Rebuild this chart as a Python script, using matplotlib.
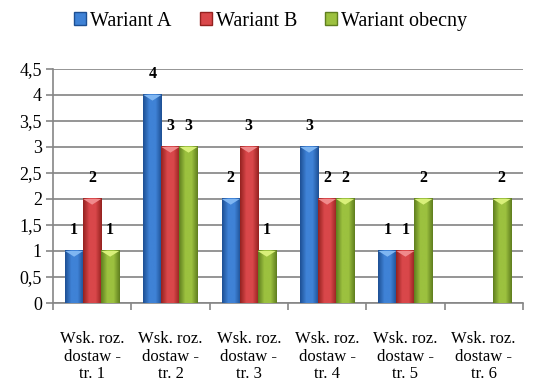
import numpy as np
import matplotlib
matplotlib.use('Agg')
import matplotlib.pyplot as plt
from matplotlib.patches import Patch, Polygon
from matplotlib.colors import LinearSegmentedColormap

plt.rcParams['font.family'] = ['Liberation Serif', 'DejaVu Serif']

# dane z wykresu
kategorie = ['Wsk. roz.\ndostaw -\ntr. 1', 'Wsk. roz.\ndostaw -\ntr. 2', 'Wsk. roz.\ndostaw -\ntr. 3',
             'Wsk. roz.\ndostaw -\ntr. 4', 'Wsk. roz.\ndostaw -\ntr. 5', 'Wsk. roz.\ndostaw -\ntr. 6']
wariant_a = [1, 4, 2, 3, 1, np.nan]
wariant_b = [2, 3, 3, 2, 1, np.nan]
wariant_obecny = [1, 3, 1, 2, 2, 2]
serie = ['Wariant A', 'Wariant B', 'Wariant obecny']
y_ticks = [0, 0.5, 1, 1.5, 2, 2.5, 3, 3.5, 4, 4.5]

# kolory: (ciemny brzeg, jasny srodek, gorny trojkat)
kolory = [('#1d4f93', '#3f82d6', '#7fb6f2'),
          ('#94211f', '#d9474a', '#f08a8c'),
          ('#5f7e1f', '#9cc13f', '#d9f07a')]

fig = plt.figure(figsize=(5.33, 3.87), dpi=100)
ax = fig.add_axes([0.0994, 0.217, 0.8816, 0.605])

szer = 0.23
x = np.arange(len(kategorie))
dane = [wariant_a, wariant_b, wariant_obecny]

for i, (vals, kol) in enumerate(zip(dane, kolory)):
    cmap = LinearSegmentedColormap.from_list('g%d' % i, [kol[0], kol[1], kol[1], kol[0]])
    grad = np.linspace(0, 1, 64).reshape(1, -1)
    for xi, v in zip(x, vals):
        if np.isnan(v):
            continue
        x0 = xi + (i - 1) * szer - szer / 2
        x1 = x0 + szer
        ax.imshow(grad, cmap=cmap, aspect='auto', extent=(x0, x1, 0, v), zorder=3)
        tri = Polygon([(x0, v), (x1, v), ((x0 + x1) / 2, v - 0.11)], closed=True,
                      facecolor=kol[2], edgecolor='none', zorder=4)
        ax.add_patch(tri)
        ax.annotate('%d' % v, (xi + (i - 1) * szer, v), xytext=(0, 15), textcoords='offset points',
                    ha='center', va='center', fontsize=11.5, fontweight='bold', zorder=5)

ax.set_xlim(-0.5, len(kategorie) - 0.5)
ax.set_ylim(0, 4.5)
ax.set_yticks(y_ticks)
ax.set_yticklabels([('%g' % t).replace('.', ',') for t in y_ticks], fontsize=13)
ax.set_xticks(np.arange(len(kategorie) + 1) - 0.5)
ax.set_xticklabels([])
ax.set_xticks(x, minor=True)
ax.set_xticklabels(kategorie, minor=True, fontsize=12, linespacing=1.15)
ax.tick_params(axis='x', which='minor', length=0, pad=20)
ax.tick_params(axis='x', which='major', length=5, color='#868686', width=1.2)
ax.tick_params(axis='y', length=5, color='#868686', width=1.2, pad=3)

ax.grid(axis='y', color='#8c8c8c', linewidth=1.3, zorder=0)
ax.set_axisbelow(True)
for s in ['top', 'right']:
    ax.spines[s].set_visible(False)
for s in ['left', 'bottom']:
    ax.spines[s].set_color('#868686')
    ax.spines[s].set_linewidth(1.2)

uchwyty = [Patch(facecolor=k[1], edgecolor=k[0], label=n) for k, n in zip(kolory, serie)]
fig.legend(handles=uchwyty, loc='center', bbox_to_anchor=(0.508, 0.945), ncol=3, frameon=False,
           fontsize=14.5, handlelength=0.6, handleheight=0.6, handletextpad=0.2, columnspacing=1.4)

fig.savefig('out.png', dpi=100)
